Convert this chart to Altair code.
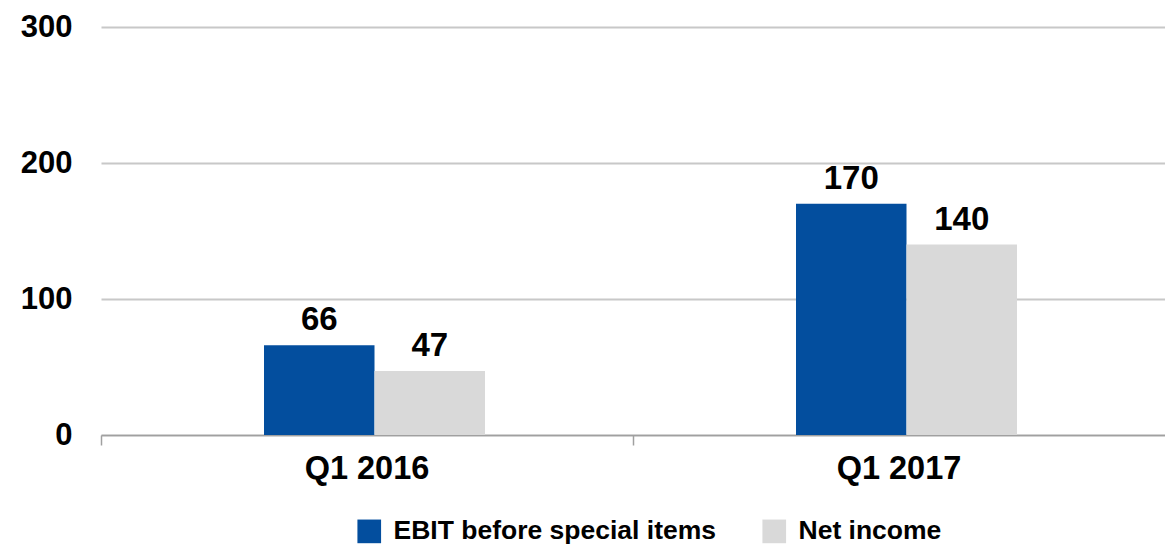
import altair as alt
import pandas as pd

quarters = ["Q1 2016", "Q1 2016", "Q1 2017", "Q1 2017"]
series = ["EBIT before special items", "Net income", "EBIT before special items", "Net income"]
values = [66, 47, 170, 140]
series_order = ["EBIT before special items", "Net income"]
series_colors = ["#034E9E", "#D9D9D9"]
y_ticks = [0, 100, 200, 300]

df = pd.DataFrame({"quarter": quarters, "series": series, "value": values})

FONT = "Liberation Sans"

base = alt.Chart(df).encode(
    x=alt.X("quarter:N",
            scale=alt.Scale(paddingInner=0, paddingOuter=0),
            axis=alt.Axis(title=None, labelAngle=0, labelFont=FONT, labelFontSize=32.5,
                          labelFontWeight="bold", labelColor="black", bandPosition=0,
                          tickSize=10, tickColor="#A0A0A0", domainColor="#A0A0A0",
                          domainWidth=1.5, tickWidth=1.5, labelPadding=7, grid=False)),
    xOffset=alt.XOffset("series:N", sort=series_order,
                        scale=alt.Scale(paddingInner=0, paddingOuter=0, range=[163, 384])),
    y=alt.Y("value:Q",
            scale=alt.Scale(domain=[0, 300]),
            axis=alt.Axis(title=None, values=y_ticks, labelFont=FONT, labelFontSize=31,
                          labelFontWeight="bold", labelColor="black", domain=False,
                          ticks=False, labelPadding=29, gridColor="#C8C8C8",
                          gridWidth=2)),
)

bars = base.mark_bar().encode(
    color=alt.Color("series:N", sort=series_order,
                    scale=alt.Scale(domain=series_order, range=series_colors),
                    legend=alt.Legend(title=None, orient="none", legendX=255, legendY=491,
                                      direction="horizontal", columns=2,
                                      symbolType="square", symbolSize=560,
                                      symbolStrokeWidth=0, labelFont=FONT,
                                      labelFontSize=26.5, labelFontWeight="bold",
                                      labelColor="black", labelOffset=11,
                                      columnPadding=44, padding=0, labelLimit=500)),
)

labels = base.mark_text(baseline="bottom", dy=-8, font=FONT, fontSize=33,
                        fontWeight="bold", color="black").encode(
    text=alt.Text("value:Q"),
)

chart = alt.layer(bars, labels).properties(
    width=1064, height=408,
    autosize=alt.AutoSizeParams(type="none"),
    padding={"left": 93, "top": 19, "right": 0, "bottom": 114},
).configure_view(stroke=None)

chart.save("out.html", embed_options={"renderer": "svg", "actions": False})
